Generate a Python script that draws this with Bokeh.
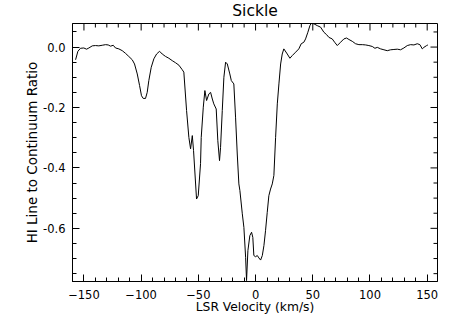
import math
from bokeh.plotting import figure
from bokeh.models import Range1d, LinearAxis, SingleIntervalTicker, PrintfTickFormatter
from bokeh.embed import file_html
from bokeh.resources import INLINE

velocity = [-157.3, -155.3, -153.0, -150.1, -147.7, -145.7, -142.7, -139.9, -137.0, -134.0,
            -131.1, -128.8, -126.7, -124.4, -122.4, -119.5, -116.5, -113.6, -110.8, -107.8,
            -105.8, -103.4, -101.4, -99.7, -98.2, -96.2, -94.7, -93.3, -91.2, -88.9,
            -86.5, -83.9, -81.6, -78.7, -75.8, -72.8, -69.9, -67.0, -64.1, -62.7,
            -60.3, -58.3, -56.8, -55.3, -54.2, -51.6, -50.1, -48.1, -47.5, -45.7,
            -44.3, -42.8, -40.8, -39.3, -37.8, -36.5, -34.4, -33.0, -31.5, -30.6,
            -29.1, -27.7, -26.2, -24.7, -22.5, -21.2, -19.0, -17.5, -16.0, -14.6,
            -13.7, -11.6, -10.2, -8.7, -7.9, -6.7, -5.0, -3.5, -2.4, -1.5,
            0.0, 1.5, 2.9, 4.4, 5.9, 7.3, 8.7, 10.2, 11.6, 13.1,
            14.6, 16.0, 17.5, 19.0, 20.4, 21.9, 23.3, 24.7, 27.7, 30.0,
            32.1, 35.0, 37.8, 39.9, 42.2, 43.7, 45.7, 47.5, 48.7, 51.0,
            53.9, 56.8, 59.7, 62.1, 64.1, 67.0, 69.1, 71.4, 74.3, 77.2,
            79.5, 81.6, 84.5, 87.4, 90.3, 93.3, 96.2, 99.0, 102.0, 104.3,
            106.4, 109.3, 112.2, 115.1, 118.0, 120.9, 123.9, 126.7, 129.6, 132.6,
            135.5, 138.4, 141.3, 143.6, 145.7, 147.1, 149.5, 150.6]
ratio = [-0.042, -0.014, -0.004, -0.003, -0.007, -0.003, 0.004, 0.005, 0.004, 0.006,
         0.008, 0.007, 0.003, 0.006, -0.003, -0.006, -0.012, -0.021, -0.031, -0.042,
         -0.056, -0.089, -0.127, -0.161, -0.170, -0.170, -0.150, -0.111, -0.067, -0.039,
         -0.023, -0.014, -0.023, -0.031, -0.037, -0.045, -0.052, -0.060, -0.075, -0.083,
         -0.210, -0.299, -0.337, -0.293, -0.343, -0.503, -0.492, -0.386, -0.299, -0.199,
         -0.144, -0.177, -0.155, -0.150, -0.172, -0.188, -0.205, -0.310, -0.376, -0.332,
         -0.210, -0.100, -0.050, -0.056, -0.089, -0.111, -0.122, -0.232, -0.354, -0.453,
         -0.475, -0.552, -0.597, -0.696, -0.773, -0.674, -0.624, -0.613, -0.630, -0.690,
         -0.694, -0.690, -0.698, -0.705, -0.690, -0.657, -0.608, -0.547, -0.492, -0.470,
         -0.453, -0.425, -0.299, -0.188, -0.122, -0.056, -0.023, -0.006, -0.023, -0.037,
         -0.028, -0.017, -0.006, 0.011, 0.016, 0.027, 0.049, 0.071, 0.079, 0.077,
         0.071, 0.066, 0.049, 0.041, 0.032, 0.027, 0.016, 0.005, 0.016, 0.027,
         0.030, 0.025, 0.019, 0.011, 0.008, 0.008, 0.007, 0.005, 0.002, -0.004,
         -0.001, -0.006, -0.009, -0.012, -0.009, -0.008, -0.007, -0.009, -0.003, 0.005,
         0.008, 0.007, 0.011, 0.008, -0.006, -0.001, 0.005, 0.007]

x_major_ticks = [-150, -100, -50, 0, 50, 100, 150]
x_minor_ticks = [v for v in range(-160, 160, 10) if v % 50 != 0]
y_major_ticks = [-0.6, -0.4, -0.2, 0.0]
y_minor_ticks = [-0.75, -0.70, -0.65, -0.55, -0.50, -0.45, -0.35, -0.30, -0.25,
                 -0.15, -0.10, -0.05, 0.05]

title_text = "Sickle"
x_label = "LSR Velocity (km/s)"
y_label = "HI Line to Continuum Ratio"

X_MIN, X_MAX = -160, 159
Y_MIN, Y_MAX = -0.776, 0.078

FONT = "DejaVu Sans"

p = figure(width=450, height=319, output_backend="svg", toolbar_location=None,
           x_range=Range1d(X_MIN, X_MAX), y_range=Range1d(Y_MIN, Y_MAX),
           x_axis_type=None, y_axis_type=None,
           min_border_left=72, min_border_right=13, min_border_top=23, min_border_bottom=38)
p.title.text = title_text
p.title.align = "center"
p.title.vertical_align = "top"
p.title.text_font = FONT
p.title.text_font_size = "15.5px"
p.title.text_font_style = "normal"
p.title.text_color = "black"
p.title.standoff = 3
p.title.offset = 0

p.grid.visible = False
p.outline_line_color = "black"
p.outline_line_width = 1
p.background_fill_color = "white"
p.border_fill_color = "white"


def style_axis(ax):
    ax.axis_line_color = "black"
    ax.major_tick_line_color = "black"
    ax.minor_tick_line_color = "black"
    ax.major_tick_in = 7
    ax.major_tick_out = 0
    ax.minor_tick_in = 4
    ax.minor_tick_out = 0
    ax.major_label_text_font = FONT
    ax.major_label_text_font_size = "11.5px"
    ax.major_label_text_color = "black"
    ax.axis_label_text_font = FONT
    ax.axis_label_text_font_style = "normal"
    ax.axis_label_text_color = "black"
    return ax


xb = style_axis(LinearAxis(ticker=SingleIntervalTicker(interval=50, num_minor_ticks=5)))
xb.axis_label = x_label
xb.axis_label_text_font_size = "12.3px"
xb.major_label_standoff = 8
xb.axis_label_standoff = -2
p.add_layout(xb, "below")

yl = style_axis(LinearAxis(ticker=SingleIntervalTicker(interval=0.2, num_minor_ticks=4)))
yl.formatter = PrintfTickFormatter(format="%.1f")
yl.axis_label = y_label
yl.axis_label_text_font_size = "13.5px"
yl.major_label_standoff = 7
yl.axis_label_standoff = 0
p.add_layout(yl, "left")

# mirrored inward tick marks on the top and right edges of the box
p.ray(x=x_major_ticks, y=[Y_MAX] * len(x_major_ticks), length=7, length_units="screen",
      angle=-math.pi / 2, line_color="black", line_width=1)
p.ray(x=x_minor_ticks, y=[Y_MAX] * len(x_minor_ticks), length=4, length_units="screen",
      angle=-math.pi / 2, line_color="black", line_width=1)
p.ray(x=[X_MAX] * len(y_major_ticks), y=y_major_ticks, length=7, length_units="screen",
      angle=math.pi, line_color="black", line_width=1)
p.ray(x=[X_MAX] * len(y_minor_ticks), y=y_minor_ticks, length=4, length_units="screen",
      angle=math.pi, line_color="black", line_width=1)

p.line(velocity, ratio, line_color="black", line_width=1)

open("out.html", "w").write(file_html(p, INLINE))
